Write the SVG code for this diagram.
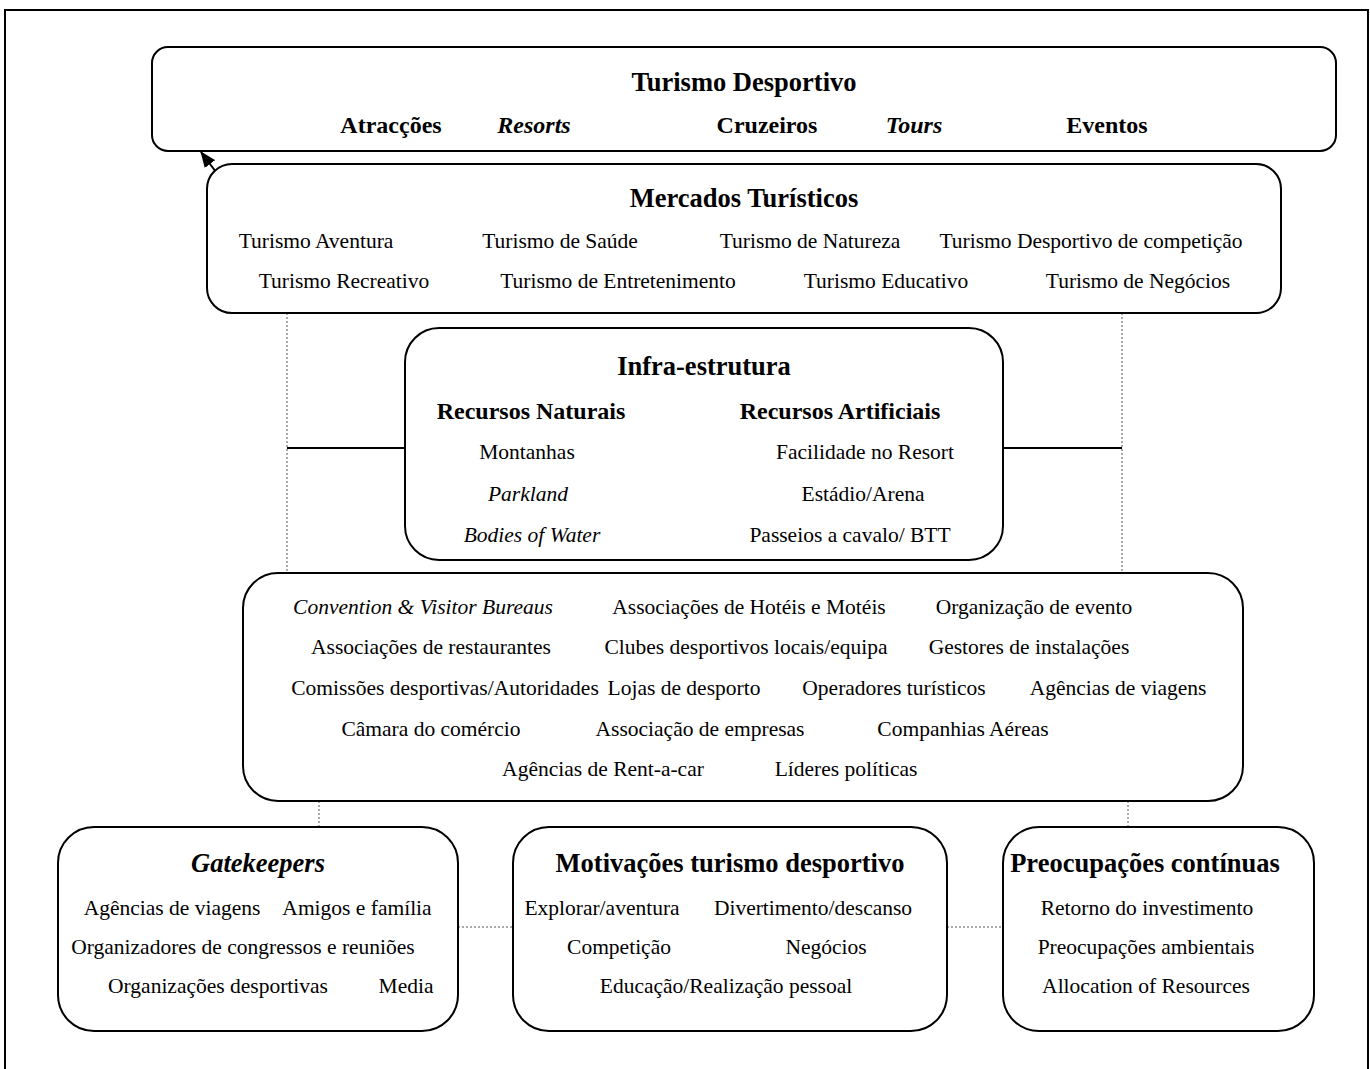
<svg xmlns="http://www.w3.org/2000/svg" width="1370" height="1069" viewBox="0 0 1370 1069">
  <style>
    text { font-family: "Liberation Serif", "Times New Roman", serif; fill: #000; text-anchor: middle; }
    .title { font-size: 26.5px; font-weight: bold; }
    .sub { font-size: 24px; font-weight: bold; }
    .body { font-size: 21.5px; }
    .it { font-style: italic; }
    .box { fill: #fff; stroke: #000; stroke-width: 2; }
    .solid { stroke: #000; stroke-width: 2; fill: none; }
    .dot { stroke: #555; stroke-width: 1; stroke-dasharray: 2 2; fill: none; }
  </style>
  <defs>
    <marker id="arrow" viewBox="0 0 16 13" refX="15" refY="6.5" markerWidth="16" markerHeight="13" markerUnits="userSpaceOnUse" orient="auto">
      <path d="M0,0 L16,6.5 L0,13 z" fill="#000"/>
    </marker>
  </defs>

  <rect x="0" y="0" width="1370" height="1069" fill="#fff"/>
  <!-- page frame -->
  <rect x="5" y="10" width="1363" height="1070" fill="none" stroke="#000" stroke-width="2"/>

  <!-- connectors -->
  <g id="connectors">
    <line class="solid" x1="216" y1="172" x2="201" y2="152" stroke-width="2.5" marker-end="url(#arrow)"/>
    <line class="dot" x1="287" y1="313" x2="287" y2="572"/>
    <line class="dot" x1="1122" y1="313" x2="1122" y2="572"/>
    <line class="solid" x1="287" y1="448" x2="405" y2="448"/>
    <line class="solid" x1="1003" y1="448" x2="1122" y2="448"/>
    <line class="dot" x1="319" y1="801" x2="319" y2="827"/>
    <line class="dot" x1="1128" y1="801" x2="1128" y2="827"/>
    <line class="dot" x1="458" y1="927" x2="513" y2="927"/>
    <line class="dot" x1="947" y1="927" x2="1003" y2="927"/>
  </g>

  <g id="turismo-desportivo">
    <rect class="box" x="152" y="47" width="1184" height="104" rx="16"/>
    <text class="title" x="744" y="91">Turismo Desportivo</text>
    <text class="sub" x="391" y="133">Atracções</text>
    <text class="sub it" x="534" y="133">Resorts</text>
    <text class="sub" x="767" y="133">Cruzeiros</text>
    <text class="sub it" x="914" y="133">Tours</text>
    <text class="sub" x="1107" y="133">Eventos</text>
  </g>

  <g id="mercados">
    <rect class="box" x="207" y="164" width="1074" height="149" rx="25"/>
    <text class="title" x="744" y="207">Mercados Turísticos</text>
    <text class="body" x="316" y="248">Turismo Aventura</text>
    <text class="body" x="560" y="248">Turismo de Saúde</text>
    <text class="body" x="810" y="248">Turismo de Natureza</text>
    <text class="body" x="1091" y="248">Turismo Desportivo de competição</text>
    <text class="body" x="344" y="288">Turismo Recreativo</text>
    <text class="body" x="618" y="288">Turismo de Entretenimento</text>
    <text class="body" x="886" y="288">Turismo Educativo</text>
    <text class="body" x="1138" y="288">Turismo de Negócios</text>
  </g>

  <g id="infra-estrutura">
    <rect class="box" x="405" y="328" width="598" height="232" rx="34"/>
    <text class="title" x="704" y="375">Infra-estrutura</text>
    <text class="sub" x="531" y="419">Recursos Naturais</text>
    <text class="sub" x="840" y="419">Recursos Artificiais</text>
    <text class="body" x="527" y="459">Montanhas</text>
    <text class="body" x="865" y="459">Facilidade no Resort</text>
    <text class="body it" x="528" y="501">Parkland</text>
    <text class="body" x="863" y="501">Estádio/Arena</text>
    <text class="body it" x="532" y="542">Bodies of Water</text>
    <text class="body" x="850" y="542">Passeios a cavalo/ BTT</text>
  </g>

  <g id="organizacoes">
    <rect class="box" x="243" y="573" width="1000" height="228" rx="35"/>
    <text class="body it" x="423" y="614">Convention &amp; Visitor Bureaus</text>
    <text class="body" x="749" y="614">Associações de Hotéis e Motéis</text>
    <text class="body" x="1034" y="614">Organização de evento</text>
    <text class="body" x="431" y="654">Associações de restaurantes</text>
    <text class="body" x="746" y="654">Clubes desportivos locais/equipa</text>
    <text class="body" x="1029" y="654">Gestores de instalações</text>
    <text class="body" x="445" y="695">Comissões desportivas/Autoridades</text>
    <text class="body" x="684" y="695">Lojas de desporto</text>
    <text class="body" x="894" y="695">Operadores turísticos</text>
    <text class="body" x="1118" y="695">Agências de viagens</text>
    <text class="body" x="431" y="736">Câmara do comércio</text>
    <text class="body" x="700" y="736">Associação de empresas</text>
    <text class="body" x="963" y="736">Companhias Aéreas</text>
    <text class="body" x="603" y="776">Agências de Rent-a-car</text>
    <text class="body" x="846" y="776">Líderes políticas</text>
  </g>

  <g id="gatekeepers">
    <rect class="box" x="58" y="827" width="400" height="204" rx="36"/>
    <text class="title it" x="258" y="872">Gatekeepers</text>
    <text class="body" x="172" y="915">Agências de viagens</text>
    <text class="body" x="357" y="915">Amigos e família</text>
    <text class="body" x="243" y="954">Organizadores de congressos e reuniões</text>
    <text class="body" x="218" y="993">Organizações desportivas</text>
    <text class="body" x="406" y="993">Media</text>
  </g>

  <g id="motivacoes">
    <rect class="box" x="513" y="827" width="434" height="204" rx="36"/>
    <text class="title" x="730" y="872">Motivações turismo desportivo</text>
    <text class="body" x="602" y="915">Explorar/aventura</text>
    <text class="body" x="813" y="915">Divertimento/descanso</text>
    <text class="body" x="619" y="954">Competição</text>
    <text class="body" x="826" y="954">Negócios</text>
    <text class="body" x="726" y="993">Educação/Realização pessoal</text>
  </g>

  <g id="preocupacoes">
    <rect class="box" x="1003" y="827" width="311" height="204" rx="36"/>
    <text class="title" x="1145" y="872">Preocupações contínuas</text>
    <text class="body" x="1147" y="915">Retorno do investimento</text>
    <text class="body" x="1146" y="954">Preocupações ambientais</text>
    <text class="body" x="1146" y="993">Allocation of Resources</text>
  </g>
</svg>
